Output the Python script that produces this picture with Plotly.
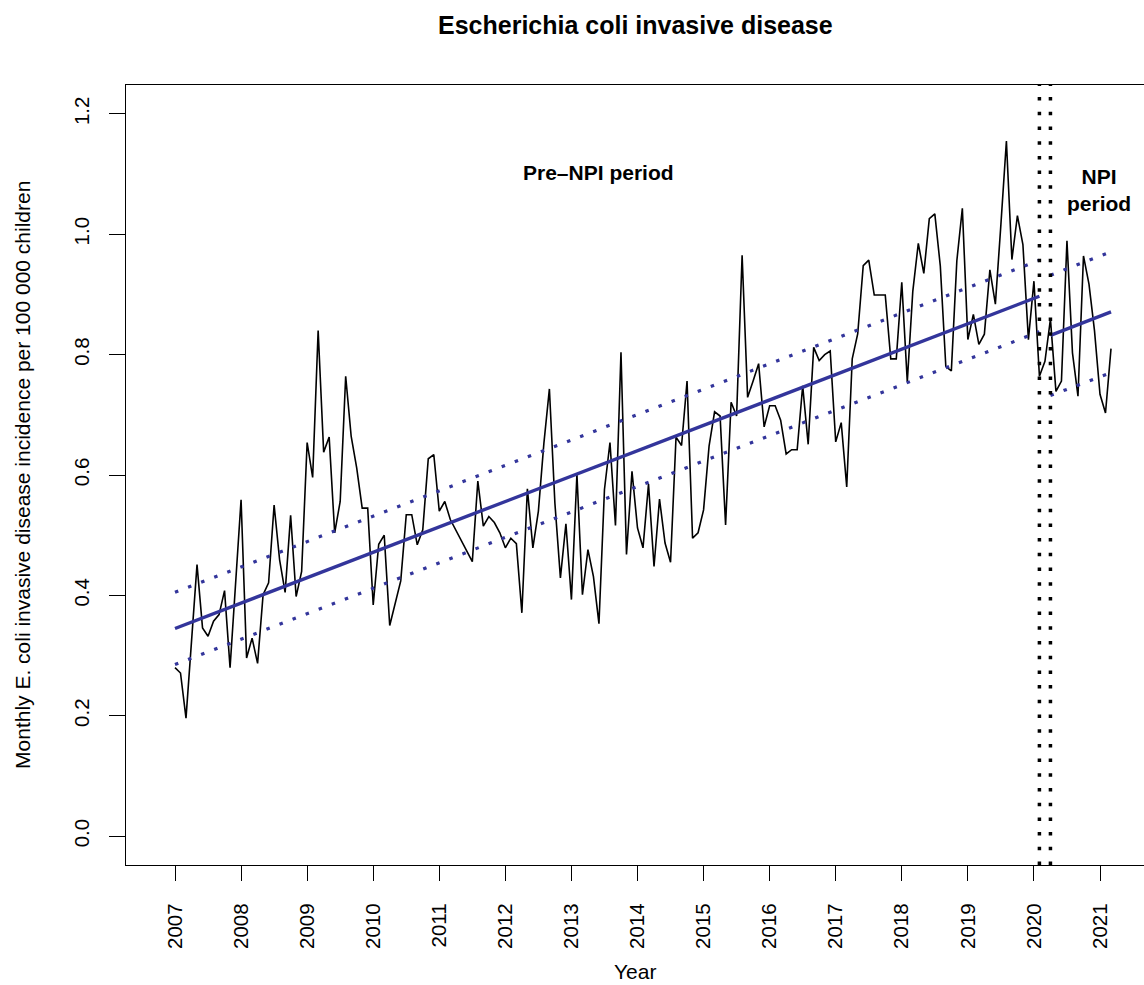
import plotly.graph_objects as go

# ---------------- data ----------------
start_year = 2007
incidence = [
    # 2007
    0.280, 0.271, 0.196, 0.319, 0.451, 0.346, 0.332, 0.357, 0.368, 0.408, 0.280, 0.419,
    # 2008
    0.559, 0.296, 0.329, 0.287, 0.401, 0.421, 0.550, 0.459, 0.405, 0.533, 0.398, 0.440,
    # 2009
    0.654, 0.596, 0.840, 0.638, 0.663, 0.504, 0.556, 0.764, 0.664, 0.612, 0.545, 0.545,
    # 2010
    0.384, 0.485, 0.500, 0.350, 0.387, 0.424, 0.534, 0.534, 0.484, 0.509, 0.627, 0.634,
    # 2011
    0.540, 0.556, 0.526, 0.509, 0.491, 0.474, 0.456, 0.590, 0.515, 0.531, 0.521, 0.504,
    # 2012
    0.479, 0.495, 0.486, 0.371, 0.577, 0.479, 0.540, 0.653, 0.743, 0.553, 0.429, 0.519,
    # 2013
    0.393, 0.601, 0.401, 0.476, 0.431, 0.353, 0.576, 0.654, 0.516, 0.804, 0.468, 0.606,
    # 2014
    0.512, 0.479, 0.585, 0.448, 0.560, 0.487, 0.455, 0.663, 0.649, 0.756, 0.495, 0.504,
    # 2015
    0.542, 0.648, 0.705, 0.698, 0.517, 0.721, 0.698, 0.965, 0.729, 0.756, 0.785, 0.680,
    # 2016
    0.715, 0.715, 0.691, 0.635, 0.642, 0.642, 0.748, 0.651, 0.812, 0.790, 0.800, 0.806,
    # 2017
    0.655, 0.687, 0.580, 0.793, 0.835, 0.948, 0.957, 0.899, 0.899, 0.899, 0.793, 0.793,
    # 2018
    0.920, 0.755, 0.905, 0.985, 0.935, 1.026, 1.034, 0.947, 0.780, 0.773, 0.956, 1.043,
    # 2019
    0.825, 0.867, 0.817, 0.834, 0.941, 0.884, 1.016, 1.155, 0.958, 1.031, 0.983, 0.825,
    # 2020
    0.922, 0.764, 0.789, 0.859, 0.739, 0.756, 0.989, 0.803, 0.731, 0.964, 0.917, 0.840,
    # 2021
    0.734, 0.703, 0.810,
]
months = [start_year + i / 12 for i in range(len(incidence))]

# pre-NPI trend (fit and bounds)
pre_x = [2007.0, 2020.083]
pre_fit = [0.345, 0.897]
pre_upper = [0.405, 0.957]
pre_lower = [0.285, 0.838]

# NPI trend (fit and bounds)
npi_x = [2020.25, 2021.167]
npi_fit = [0.832, 0.871]
npi_upper = [0.932, 0.971]
npi_lower = [0.732, 0.770]

# period breaks
break_years = [2020.083, 2020.25]

year_ticks = list(range(2007, 2022))
year_labels = [str(y) for y in year_ticks]
y_ticks = [0.0, 0.2, 0.4, 0.6, 0.8, 1.0, 1.2]
y_labels = ["0.0", "0.2", "0.4", "0.6", "0.8", "1.0", "1.2"]

# ---------------- figure ----------------
FONT = "Liberation Sans, Arial, Helvetica, sans-serif"
BLUE = "#33359b"

fig = go.Figure()

fig.add_trace(go.Scatter(x=months, y=incidence, mode="lines",
                         line=dict(color="black", width=1.6), showlegend=False))

for xs, fit, up, lo in [(pre_x, pre_fit, pre_upper, pre_lower),
                        (npi_x, npi_fit, npi_upper, npi_lower)]:
    fig.add_trace(go.Scatter(x=xs, y=fit, mode="lines",
                             line=dict(color=BLUE, width=3.4), showlegend=False))
    fig.add_trace(go.Scatter(x=xs, y=up, mode="lines",
                             line=dict(color=BLUE, width=3.2, dash="3.5px,10.5px"),
                             showlegend=False))
    fig.add_trace(go.Scatter(x=xs, y=lo, mode="lines",
                             line=dict(color=BLUE, width=3.2, dash="3.5px,10.5px"),
                             showlegend=False))

for bx in break_years:
    fig.add_shape(type="line", xref="x", yref="paper", x0=bx, x1=bx, y0=0, y1=1,
                  line=dict(color="black", width=3.5, dash="3.5px,11.2px"))

fig.add_annotation(x=2013.41, y=1.1025, xref="x", yref="y", text="<b>Pre\u2013NPI period</b>",
                   showarrow=False, font=dict(family=FONT, size=21, color="black"))
fig.add_annotation(x=2020.985, y=1.074, xref="x", yref="y", text="<b>NPI<br>period</b>",
                   showarrow=False, font=dict(family=FONT, size=21, color="black"))

# title and axis titles
fig.add_annotation(x=0.5, y=1.0769, xref="paper", yref="paper",
                   text="<b>Escherichia coli invasive disease</b>", showarrow=False,
                   xanchor="center", yanchor="middle",
                   font=dict(family=FONT, size=25, color="black"))
fig.add_annotation(x=0.5, y=-0.1365, xref="paper", yref="paper", text="Year",
                   showarrow=False, xanchor="center", yanchor="middle",
                   font=dict(family=FONT, size=21, color="black"))
fig.add_annotation(x=-0.1022, y=0.5, xref="paper", yref="paper",
                   text="Monthly E. coli invasive disease incidence per 100 000 children",
                   textangle=-90, showarrow=False, xanchor="center", yanchor="middle",
                   font=dict(family=FONT, size=21, color="black"))

fig.update_layout(
    width=1144, height=985,
    margin=dict(l=126, r=0, t=85, b=119.5),
    paper_bgcolor="white", plot_bgcolor="white",
    font=dict(family=FONT, size=20.5, color="black"),
    xaxis=dict(range=[2006.2584, 2021.666], tickmode="array", tickvals=year_ticks,
               ticktext=year_labels, tickangle=-90, ticks="outside", ticklen=15,
               tickwidth=1.3, tickcolor="black", showline=True, mirror=True,
               linecolor="black", linewidth=1.3, showgrid=False, zeroline=False,
               ticklabelstandoff=14, tickfont=dict(family=FONT, size=20.5, color="black")),
    yaxis=dict(range=[-0.048, 1.248], tickmode="array", tickvals=y_ticks,
               ticktext=y_labels, tickangle=-90, ticks="outside", ticklen=16,
               tickwidth=1.3, tickcolor="black", showline=True, mirror=False,
               linecolor="black", linewidth=1.3, showgrid=False, zeroline=False,
               ticklabelstandoff=12, tickfont=dict(family=FONT, size=20.5, color="black")),
)

fig.write_html("out.html")
